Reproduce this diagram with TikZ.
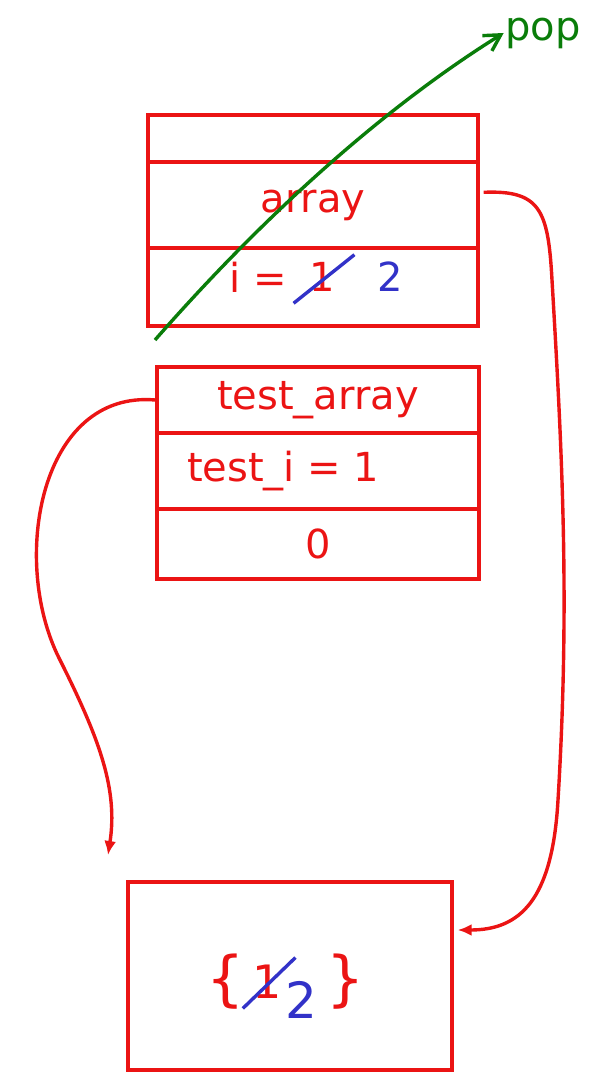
\documentclass[tikz,border=0pt]{standalone}
\usepackage{fontspec}
\setmainfont{DejaVu Sans}
\usetikzlibrary{arrows.meta,positioning,calc}
\definecolor{ink}{RGB}{235,20,20}
\definecolor{blueink}{RGB}{50,50,200}
\definecolor{greenink}{RGB}{10,125,10}

\begin{document}
\begin{tikzpicture}[x=1pt, y=-1pt, >=Latex, line width=3.4pt,
  every node/.style={font=\fontsize{40}{40}\selectfont, text=ink, inner sep=0pt},
  slot/.style={draw=ink, minimum width=330pt},
  slot2/.style={draw=ink, minimum width=322pt},
  ptr/.style={draw=ink, -{Latex[length=14pt,width=12pt]}, rounded corners=2pt},
  node distance=-3.4pt]
\useasboundingbox (0,0) rectangle (589,1075);
% frame of the caller
\node[slot, minimum height=47pt] (ftop) at (313,138.5) {};
\node[slot, minimum height=86pt, below=of ftop] (farr) {array};
\node[slot, minimum height=78pt, below=of farr] (fi) {};
\node (ilbl) at (258,277) {i =};
\node (ione) at (322,277) {1};
\node[text=blueink] (itwo) at (390,277) {2};
\draw[blueink] ($(ione.south west)+(-14,10)$) -- ($(ione.north east)+(18,-6)$);
% frame of test
\node[slot2, minimum height=66pt] (ftarr) at (318,400) {test\_array};
\node[slot2, minimum height=76pt, below=of ftarr] (fti) {};
\node[right=0pt of fti.west, xshift=30pt] {test\_i = 1};
\node[slot2, minimum height=70pt, below=of fti] (fzero) {0};
% heap object
\node[draw=ink, minimum width=324pt, minimum height=188pt] (heap) at (290,976) {};
\node[font=\fontsize{60}{60}\selectfont] (hl) at (226,982) {\{};
\node[font=\fontsize{46}{46}\selectfont, right=4pt of hl] (hone) {1};
\node[font=\fontsize{50}{50}\selectfont, text=blueink, right=0pt of hone, yshift=-18pt] (htwo) {2};
\node[font=\fontsize{60}{60}\selectfont, right=6pt of htwo, yshift=18pt] (hr) {\}};
\draw[blueink] ($(hone.south west)+(-8,8)$) -- ($(hone.north east)+(12,-6)$);
% references
\coordinate (heapin) at (108,855);
\draw[ptr] (ftarr.west) .. controls (40,390) and (10,560) .. (60,660)
  .. controls (100,740) and (118,790) .. (heapin);
\coordinate (heapr) at ($(heap.east)+(4,-46)$);
\draw[ptr] ($(farr.north east)+(4,32)$) .. controls (540,190) and (548,210) .. (552,280)
  .. controls (562,450) and (570,600) .. (558,800)
  .. controls (552,900) and (520,930) .. (heapr);
% pop
\coordinate (popstart) at (155,340);
\node[text=greenink] (pop) at (543,33) {pop};
\draw[greenink, -{Straight Barb[length=16pt,width=18pt]}] (popstart)
  .. controls (260,220) and (380,110) .. (pop.west);
\end{tikzpicture}
\end{document}
